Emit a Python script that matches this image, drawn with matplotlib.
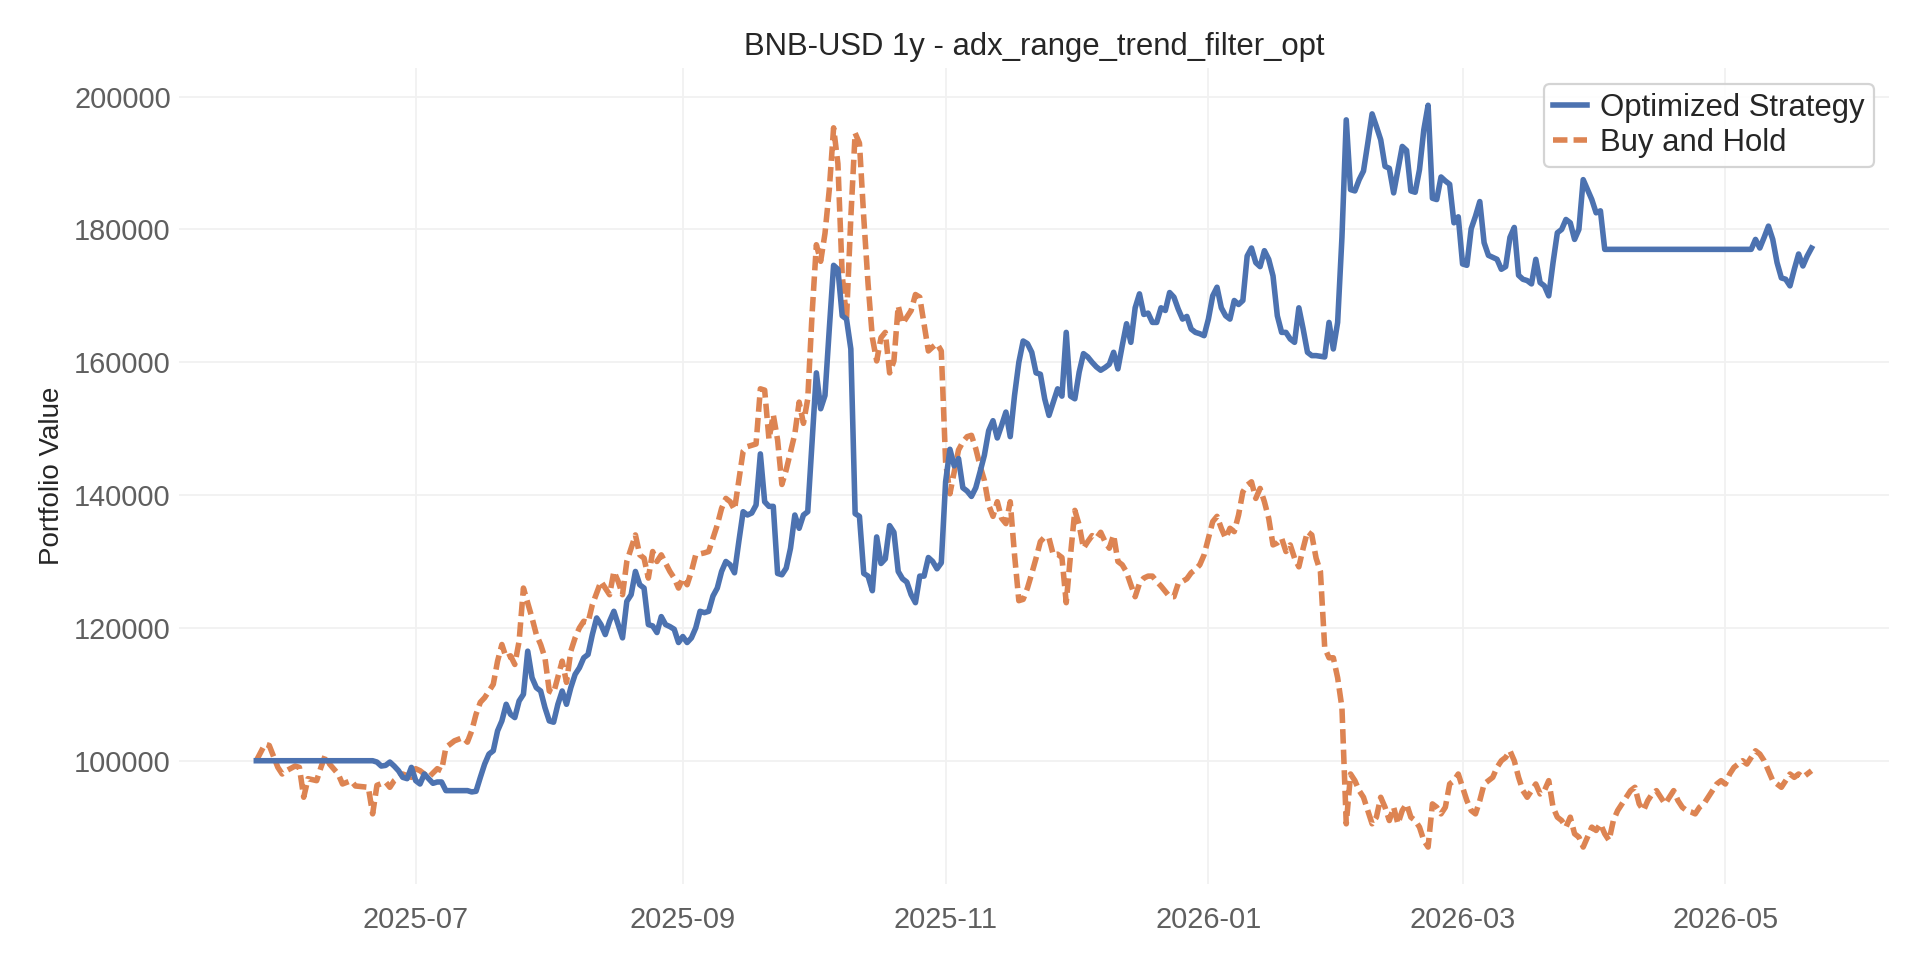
"""
BNB-USD 1y backtest: optimized strategy vs buy and hold.
"""
import pandas as pd
import matplotlib
matplotlib.use("Agg")
import matplotlib.pyplot as plt
import matplotlib.dates as mdates

# ── Data ──────────────────────────────────────────────────────────────────────
start_date = "2025-05-25"
title = "BNB-USD 1y - adx_range_trend_filter_opt"

strategy_days = [
    0, 27, 28, 29, 30, 31, 32, 33, 34, 35, 36, 37, 38, 39, 40, 41, 42, 43, 44, 49,
    50, 51, 52, 53, 54, 55, 56, 57, 58, 59, 60, 61, 62, 63, 64, 65, 66, 67, 68, 69,
    70, 71, 72, 73, 74, 75, 76, 77, 78, 79, 80, 81, 82, 83, 84, 85, 86, 87, 88, 89,
    90, 91, 92, 93, 94, 95, 96, 97, 98, 99, 100, 101, 102, 103, 104, 105, 106, 107, 108, 109,
    110, 111, 112, 113, 114, 115, 116, 117, 118, 119, 120, 121, 122, 123, 124, 125, 126, 127, 128, 129,
    130, 131, 132, 133, 134, 135, 136, 137, 138, 139, 140, 141, 142, 143, 144, 145, 146, 147, 148, 149,
    150, 151, 152, 153, 154, 155, 156, 157, 158, 159, 160, 161, 162, 163, 164, 165, 166, 167, 168, 169,
    170, 171, 172, 173, 174, 175, 176, 177, 178, 179, 180, 181, 182, 183, 184, 185, 186, 187, 188, 189,
    190, 191, 192, 193, 194, 195, 196, 197, 198, 199, 200, 201, 202, 203, 204, 205, 206, 207, 208, 209,
    210, 211, 212, 213, 214, 215, 216, 217, 218, 219, 220, 221, 222, 223, 224, 225, 226, 227, 228, 229,
    230, 231, 232, 233, 234, 235, 236, 237, 238, 239, 240, 241, 242, 243, 244, 245, 246, 247, 248, 249,
    250, 251, 252, 253, 254, 255, 256, 257, 258, 259, 260, 261, 262, 263, 264, 265, 266, 267, 268, 269,
    270, 271, 272, 273, 274, 275, 276, 277, 278, 279, 280, 281, 282, 283, 284, 285, 286, 287, 288, 289,
    290, 291, 292, 293, 294, 295, 296, 297, 298, 299, 300, 301, 302, 303, 304, 305, 306, 307, 308, 309,
    310, 311, 312, 313, 347, 348, 349, 350, 351, 352, 353, 354, 355, 356, 357, 358, 359, 360, 361,
]
strategy_values = [
    100000, 100000, 99800, 99200, 99300, 99800, 99200, 98500, 97500, 97300, 99000, 97000, 96500, 98000, 97300, 96600, 96800, 96800, 95500, 95500,
    95300, 95400, 97500, 99500, 101000, 101500, 104500, 106000, 108500, 107000, 106500, 109000, 110000, 116500, 112500, 111000, 110500, 108000, 106000, 105800,
    108500, 110500, 108500, 111000, 113000, 114000, 115500, 116000, 119000, 121500, 120500, 119000, 121000, 122500, 120500, 118500, 124000, 125000, 128500, 126500,
    126000, 120500, 120300, 119300, 121700, 120500, 120200, 119800, 117800, 118700, 117800, 118500, 120000, 122500, 122300, 122500, 124800, 126000, 128500, 130000,
    129500, 128300, 133000, 137500, 137000, 137300, 138500, 146200, 139000, 138300, 138300, 128200, 128000, 129000, 132000, 137000, 135000, 137000, 137500, 148000,
    158400, 153000, 155000, 165000, 174600, 174000, 167000, 166500, 162000, 137200, 136800, 128200, 127800, 125600, 133700, 129700, 130400, 135400, 134400, 128500,
    127400, 126900, 125000, 123800, 127800, 127800, 130600, 130000, 128900, 129800, 142000, 146900, 144400, 145500, 141100, 140600, 139800, 141100, 143500, 146000,
    149700, 151200, 148600, 150500, 152500, 148800, 155000, 160000, 163200, 162800, 161500, 158400, 158200, 154500, 152000, 154000, 156000, 154900, 164500, 154900,
    154500, 158500, 161300, 160800, 160000, 159300, 158800, 159200, 159700, 161500, 159000, 162500, 165800, 163000, 168200, 170300, 167200, 167400, 166000, 166000,
    168200, 167800, 170500, 169800, 168000, 166500, 166900, 165000, 164500, 164300, 164000, 166500, 170000, 171300, 168200, 167000, 166500, 169300, 168700, 169300,
    176000, 177200, 175000, 174400, 176800, 175500, 173000, 167000, 164500, 164500, 163500, 163000, 168200, 165000, 161500, 161000, 161000, 160900, 160800, 166000,
    162000, 166000, 178800, 196500, 186000, 185800, 187500, 188800, 193000, 197400, 195500, 193500, 189500, 189200, 185500, 189000, 192500, 191900, 185800, 185600,
    189000, 195000, 198700, 184700, 184500, 187900, 187300, 186800, 181000, 181900, 174800, 174600, 180100, 182000, 184200, 178000, 176100, 175800, 175500, 174000,
    174400, 178800, 180300, 173100, 172500, 172300, 171800, 175500, 172000, 171500, 170000, 175000, 179500, 180000, 181500, 181000, 178500, 180000, 187500, 186000,
    184500, 182500, 182800, 177000, 177000, 178500, 177200, 178800, 180500, 178500, 175000, 172700, 172500, 171500, 174000, 176300, 174500, 176000, 177200,
]

hold_days = [
    0, 2, 3, 5, 6, 7, 9, 10, 11, 12, 14, 15, 16, 17, 19, 20, 22, 23, 26, 27,
    28, 30, 31, 32, 34, 36, 37, 38, 40, 42, 43, 44, 46, 48, 49, 50, 51, 52, 53, 55,
    56, 57, 58, 59, 60, 61, 62, 64, 65, 66, 67, 68, 69, 71, 72, 73, 74, 75, 76, 77,
    78, 80, 81, 82, 83, 84, 85, 86, 88, 89, 90, 91, 92, 93, 94, 96, 97, 98, 99, 100,
    101, 102, 104, 105, 106, 107, 108, 109, 110, 111, 113, 114, 116, 117, 118, 119, 120, 121, 122, 123,
    125, 126, 127, 128, 129, 130, 131, 132, 133, 134, 135, 136, 137, 138, 139, 140, 141, 142, 143, 144,
    145, 146, 147, 148, 149, 150, 151, 152, 153, 154, 155, 156, 157, 158, 159, 160, 161, 162, 163, 164,
    165, 166, 167, 168, 169, 170, 171, 172, 173, 174, 175, 176, 177, 178, 179, 180, 181, 182, 183, 184,
    185, 186, 187, 188, 189, 190, 191, 192, 193, 194, 195, 196, 197, 198, 199, 200, 201, 202, 203, 204,
    205, 206, 207, 208, 209, 210, 211, 212, 213, 214, 215, 216, 217, 218, 219, 220, 221, 222, 223, 224,
    225, 226, 227, 228, 229, 230, 231, 232, 233, 234, 235, 236, 237, 238, 239, 240, 241, 242, 243, 244,
    245, 246, 247, 248, 249, 250, 251, 252, 253, 254, 255, 256, 257, 258, 259, 260, 261, 262, 263, 264,
    265, 266, 267, 268, 269, 270, 271, 272, 273, 274, 275, 276, 277, 278, 279, 280, 281, 282, 283, 284,
    285, 286, 287, 288, 289, 290, 291, 292, 293, 294, 295, 296, 297, 298, 299, 300, 301, 302, 303, 304,
    305, 306, 307, 308, 309, 310, 311, 312, 313, 314, 315, 316, 317, 318, 319, 320, 321, 322, 323, 324,
    325, 326, 327, 328, 329, 330, 331, 332, 333, 334, 335, 336, 337, 338, 339, 340, 341, 342, 343, 344,
    345, 346, 347, 348, 349, 350, 351, 352, 353, 354, 355, 356, 357, 358, 359, 360, 361,
]
hold_values = [
    100000, 102500, 102300, 99000, 98000, 98500, 99200, 99000, 94500, 97300, 97000, 99000, 100800, 99500, 98000, 96500, 97000, 96200, 96000, 92000,
    96300, 96800, 96000, 97000, 98000, 97500, 98800, 98500, 97500, 98800, 98500, 102000, 103000, 103500, 102800, 104500, 107000, 108800, 109500, 111500,
    115000, 117500, 115500, 115800, 114500, 118000, 126000, 121500, 119000, 117500, 115500, 110500, 110200, 115000, 111800, 116500, 118500, 120000, 121000, 120800,
    123500, 127000, 126000, 125000, 128500, 127000, 125000, 130000, 134000, 131000, 130500, 127500, 131500, 130000, 131000, 128500, 127500, 126000, 127500, 126500,
    128500, 131000, 131300, 131500, 133500, 135500, 138000, 139500, 139000, 137800, 146600, 147300, 147700, 156000, 155800, 148400, 152100, 148300, 141600, 143800,
    149200, 154000, 150800, 154500, 167200, 177700, 175200, 179400, 186000, 195300, 189900, 173100, 166500, 181800, 194500, 193000, 181800, 171800, 163700, 160200,
    163700, 164500, 158400, 160200, 168500, 165800, 166800, 167800, 170200, 169800, 165800, 161700, 162300, 162800, 161700, 145000, 140200, 143500, 146800, 148000,
    148800, 149000, 147000, 144400, 142200, 138500, 136800, 139000, 136500, 135700, 139000, 131000, 124100, 124300, 126000, 128200, 130500, 133000, 133700, 133500,
    131000, 131100, 130600, 123800, 131000, 137700, 135500, 132000, 133000, 133900, 133500, 134400, 133000, 132000, 134000, 130000, 129500, 128400, 126500, 124700,
    126700, 127500, 127800, 127800, 127000, 126300, 125500, 124700, 124700, 126700, 127000, 127400, 128300, 128800, 129500, 131000, 133500, 136000, 136800, 135000,
    133500, 135000, 134500, 137000, 140500, 141500, 142000, 139500, 141000, 139000, 136500, 132500, 132800, 133500, 131500, 132500, 130500, 129200, 132000, 134500,
    134000, 130500, 128500, 117000, 115500, 115500, 112500, 108000, 90500, 98000, 97000, 95500, 94500, 92500, 90500, 91500, 94500, 93000, 91000, 93000,
    90500, 92500, 93500, 91500, 91000, 90000, 88000, 87000, 93500, 93000, 92000, 93000, 96500, 97000, 98000, 96000, 94000, 92500, 92000, 94000,
    96500, 97000, 97500, 99000, 100000, 100500, 101500, 100000, 97500, 95500, 94500, 95500, 96500, 95000, 95500, 97000, 93000, 91500, 91000, 90000,
    91500, 89000, 88500, 87000, 88500, 90000, 89500, 90500, 89000, 88000, 91000, 92500, 93500, 94500, 95500, 96000, 93500, 92500, 94000, 95000,
    95500, 94500, 93500, 94500, 95500, 94000, 93000, 92500, 92300, 92000, 93000, 93500, 94500, 95500, 96500, 97000, 96500, 98000, 99000, 99500,
    100000, 99500, 100500, 101500, 101000, 100000, 98500, 97000, 96500, 96000, 97000, 98000, 97500, 98000, 97500, 98000, 98500,
]

strategy = pd.Series(strategy_values,
                     index=pd.Timestamp(start_date) + pd.to_timedelta(strategy_days, unit="D"))
hold = pd.Series(hold_values,
                 index=pd.Timestamp(start_date) + pd.to_timedelta(hold_days, unit="D"))

# ── Plot ──────────────────────────────────────────────────────────────────────
plt.rcParams["font.family"] = ["Liberation Sans", "DejaVu Sans"]

fig, ax = plt.subplots(figsize=(12, 6), dpi=160)
fig.subplots_adjust(left=0.093, right=0.984, bottom=0.079, top=0.929)

ax.plot(strategy.index, strategy.values, color="#4c72b0", linewidth=2.5,
        label="Optimized Strategy", zorder=3)
ax.plot(hold.index, hold.values, color="#dd8452", linewidth=2.5,
        linestyle=(0, (2.6, 1.1)), label="Buy and Hold", zorder=2)

ax.set_title(title, fontsize=14, color="#262626")
ax.set_ylabel("Portfolio Value", fontsize=12.5, color="#262626")
leg = ax.legend(loc="upper right", fontsize=14, frameon=True, edgecolor="#d0d0d0",
                framealpha=0.9, handlelength=1.1, handletextpad=0.4,
                labelspacing=0.15, borderpad=0.3)
for txt in leg.get_texts():
    txt.set_color("#262626")

ax.grid(True, color="#f1f1f1", linewidth=0.8)
ax.set_axisbelow(True)
for side in ["top", "right", "bottom", "left"]:
    ax.spines[side].set_visible(False)
ax.tick_params(axis="both", length=0, labelsize=13, labelcolor="#5f5f5f")
ax.tick_params(axis="x", pad=10)

ax.ticklabel_format(style="plain", axis="y", useOffset=False)
ax.set_yticks(range(100000, 200001, 20000))
ax.xaxis.set_major_locator(mdates.MonthLocator(bymonth=[1, 3, 5, 7, 9, 11]))
ax.xaxis.set_major_formatter(mdates.DateFormatter("%Y-%m"))

fig.savefig("out.png", dpi=160)
print("[PLOT] Saved to out.png")
